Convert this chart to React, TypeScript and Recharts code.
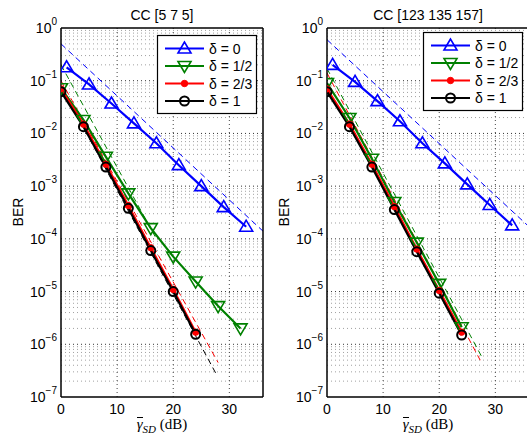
import React from 'react';
import { LineChart, Line, XAxis, YAxis, ReferenceLine } from 'recharts';

const FONT = '"Liberation Sans", Arial, sans-serif';
const SERIF = '"Liberation Serif", "Times New Roman", serif';

const BLUE = '#0000ff';
const GREEN = '#008000';
const RED = '#ff0000';
const BLACK = '#000000';

// snr points (dB)
const xBlue = [1, 5, 9, 13, 17, 21, 25, 29, 33];
const xLong = [0, 4, 8, 12, 16, 20, 24, 28, 32];
const xShort = [0, 4, 8, 12, 16, 20, 24];

// CC [5 7 5]
const berL0 = [0.18, 0.085, 0.037, 0.0155, 0.0065, 0.0025, 0.001, 0.0004, 0.00017];
const berL12 = [0.072, 0.018, 0.0036, 0.00073, 0.00016, 4.6e-5, 1.55e-5, 5.3e-6, 2.0e-6];
const berL23 = [0.07, 0.015, 0.0026, 0.00043, 6.8e-5, 1.1e-5, 1.7e-6];
const berL1 = [0.062, 0.0134, 0.0023, 0.00038, 6.0e-5, 1.0e-5, 1.55e-6];

// CC [123 135 157]
const berR0 = [0.2, 0.095, 0.041, 0.017, 0.0065, 0.0027, 0.00108, 0.00044, 0.00018];
const berR12 = [0.09, 0.0196, 0.0033, 0.0005, 8.5e-5, 1.4e-5, 2.1e-6];
const berR23 = [0.07, 0.015, 0.0026, 0.00041, 6.4e-5, 1.05e-5, 1.7e-6];
const berR1 = [0.062, 0.0134, 0.0023, 0.00036, 5.7e-5, 9.3e-6, 1.5e-6];

// asymptotes (end points)
const asymL0x = [0, 36];
const asymL0y = [0.5, 1.4e-4];
const asymL12x = [0, 17];
const asymL12y = [0.2, 1.0e-4];
const asymL23x = [0, 28];
const asymL23y = [0.1, 4.5e-7];
const asymL1x = [0, 27.6];
const asymL1y = [0.08, 2.8e-7];

const asymR0x = [0, 36];
const asymR0y = [0.6, 1.7e-4];
const asymR12x = [0, 27.5];
const asymR12y = [0.17, 6e-7];
const asymR23x = [0, 27.3];
const asymR23y = [0.14, 5e-7];

const legendLabels = ['δ = 0', 'δ = 1/2', 'δ = 2/3', 'δ = 1'];
const xTicks = [0, 10, 20, 30];
const yTicks = [1e-7, 1e-6, 1e-5, 1e-4, 1e-3, 1e-2, 1e-1, 1];
const decades = [1e-7, 1e-6, 1e-5, 1e-4, 1e-3, 1e-2, 1e-1];
const minorSteps = [2, 3, 4, 5, 6, 7, 8, 9];
const minorGrid = decades.flatMap((d) => minorSteps.map((m) => m * d));

type Pt = { x: number; y: number };
const zip = (xs: number[], ys: number[]): Pt[] => xs.map((x, i) => ({ x, y: ys[i] }));

type Marker = 'up' | 'down' | 'dot' | 'ring';

function MarkerShape({ cx, cy, kind, color }: { cx: number; cy: number; kind: Marker; color: string }) {
  if (kind === 'up')
    return (
      <polygon
        points={`${cx},${cy - 6.5} ${cx - 6.5},${cy + 4.5} ${cx + 6.5},${cy + 4.5}`}
        fill="none"
        stroke={color}
        strokeWidth={1.6}
      />
    );
  if (kind === 'down')
    return (
      <polygon
        points={`${cx},${cy + 6.5} ${cx - 6.5},${cy - 4.5} ${cx + 6.5},${cy - 4.5}`}
        fill="none"
        stroke={color}
        strokeWidth={1.6}
      />
    );
  if (kind === 'dot') return <circle cx={cx} cy={cy} r={3.2} fill={color} stroke={color} />;
  return <circle cx={cx} cy={cy} r={4.5} fill="none" stroke={color} strokeWidth={2} />;
}

const dotFor = (kind: Marker, color: string) => (p: any) => {
  if (p.cx == null || p.cy == null) return <g key={`e-${p.index}`} />;
  return (
    <g key={`m-${kind}-${p.index}`}>
      <MarkerShape cx={p.cx} cy={p.cy} kind={kind} color={color} />
    </g>
  );
};

const YTick = ({ x, y, payload }: any) => {
  const e = Math.round(Math.log10(payload.value));
  return (
    <text x={x} y={y + 5} textAnchor="end" fontSize={14} fill="#000" fontFamily={FONT}>
      10
      <tspan dy={-8} fontSize={10}>
        {e === 0 ? '0' : `\u2212${-e}`}
      </tspan>
    </text>
  );
};

const XTick = ({ x, y, payload }: any) => (
  <text x={x} y={y + 17} textAnchor="middle" fontSize={14} fill="#000" fontFamily={FONT}>
    {payload.value}
  </text>
);

type Curve = { data: Pt[]; color: string; marker: Marker };
type Asym = { data: Pt[]; color: string };

const colors = [BLUE, GREEN, RED, BLACK];
const markers: Marker[] = ['up', 'down', 'dot', 'ring'];

function LegendBox({ left, top }: { left: number; top: number }) {
  return (
    <svg width={100} height={79} style={{ position: 'absolute', left, top, overflow: 'visible' }}>
      <rect x={0.5} y={0.5} width={99} height={78} fill="#fff" stroke="#000" strokeWidth={1.2} />
      {legendLabels.map((lab, i) => {
        const cy = 13.5 + i * 17.5;
        return (
          <g key={lab}>
            <line x1={8} y1={cy} x2={47} y2={cy} stroke={colors[i]} strokeWidth={2} />
            <MarkerShape cx={27.5} cy={cy} kind={markers[i]} color={colors[i]} />
            <text x={52} y={cy + 5} fontSize={14} fontFamily={FONT} fill="#000">
              {lab}
            </text>
          </g>
        );
      })}
    </svg>
  );
}

function Panel({
  left,
  title,
  curves,
  asym,
  legendTop,
}: {
  left: number;
  title: string;
  curves: Curve[];
  asym: Asym[];
  legendTop: number;
}) {
  return (
    <div style={{ position: 'absolute', left, top: 0, width: 270, height: 439 }}>
      <LineChart width={270} height={439} margin={{ top: 28, right: 7, bottom: 0, left: 0 }}>
        <XAxis
          dataKey="x"
          type="number"
          domain={[0, 36]}
          allowDataOverflow
          ticks={xTicks}
          tick={<XTick />}
          tickLine={false}
          tickSize={0}
          tickMargin={0}
          height={42}
          axisLine={{ stroke: '#000', strokeWidth: 1.5 }}
        />
        <YAxis
          dataKey="y"
          type="number"
          scale="log"
          domain={[1e-7, 1]}
          allowDataOverflow
          ticks={yTicks}
          tick={<YTick />}
          tickLine={false}
          tickSize={0}
          tickMargin={4}
          width={61}
          axisLine={{ stroke: '#000', strokeWidth: 1.5 }}
        />
        {minorGrid.map((v) => (
          <ReferenceLine key={`mg-${v}`} y={v} stroke="#a0a0a0" strokeDasharray="1 3" strokeWidth={1} />
        ))}
        {decades.slice(1).map((v) => (
          <ReferenceLine key={`Mg-${v}`} y={v} stroke="#333" strokeDasharray="1 3" strokeWidth={1} />
        ))}
        {xTicks.slice(1).map((v) => (
          <ReferenceLine key={`vg-${v}`} x={v} stroke="#444" strokeDasharray="1 3" strokeWidth={1} />
        ))}
        {asym.map((a, i) => (
          <Line
            key={`as-${i}`}
            data={a.data}
            dataKey="y"
            stroke={a.color}
            strokeWidth={1}
            strokeDasharray="6 4"
            dot={false}
            activeDot={false}
            isAnimationActive={false}
          />
        ))}
        {curves.map((c, i) => (
          <Line
            key={`c-${i}`}
            data={c.data}
            dataKey="y"
            stroke={c.color}
            strokeWidth={2.2}
            dot={dotFor(c.marker, c.color)}
            activeDot={false}
            isAnimationActive={false}
          />
        ))}
        <ReferenceLine y={1} stroke="#000" strokeWidth={1.5} />
        <ReferenceLine x={36} stroke="#000" strokeWidth={1.5} />
      </LineChart>
      <div
        style={{
          position: 'absolute',
          left: 61,
          top: 5,
          width: 202,
          textAlign: 'center',
          font: `14px ${FONT}`,
          lineHeight: '20px',
          whiteSpace: 'nowrap',
        }}
      >
        {title}
      </div>
      <div
        style={{
          position: 'absolute',
          left: 18 - 25,
          top: 212 - 9,
          width: 50,
          height: 18,
          textAlign: 'center',
          font: `14px ${FONT}`,
          lineHeight: '18px',
          transform: 'rotate(-90deg)',
        }}
      >
        BER
      </div>
      <div
        style={{
          position: 'absolute',
          left: 61,
          top: 415,
          width: 202,
          textAlign: 'center',
          font: `15px ${SERIF}`,
          lineHeight: '18px',
          whiteSpace: 'nowrap',
        }}
      >
        <span
          style={{
            fontStyle: 'italic',
            display: 'inline-block',
            borderTop: '1px solid #000',
            lineHeight: '10px',
            paddingTop: 1,
          }}
        >
          γ
        </span>
        <sub style={{ fontStyle: 'italic', fontSize: 11 }}>SD</sub> (dB)
      </div>
      <LegendBox left={157} top={legendTop} />
    </div>
  );
}

export default function App() {
  const leftCurves: Curve[] = [
    { data: zip(xBlue, berL0), color: BLUE, marker: 'up' },
    { data: zip(xLong, berL12), color: GREEN, marker: 'down' },
    { data: zip(xShort, berL23), color: RED, marker: 'dot' },
    { data: zip(xShort, berL1), color: BLACK, marker: 'ring' },
  ];
  const leftAsym: Asym[] = [
    { data: zip(asymL0x, asymL0y), color: BLUE },
    { data: zip(asymL12x, asymL12y), color: GREEN },
    { data: zip(asymL23x, asymL23y), color: RED },
    { data: zip(asymL1x, asymL1y), color: BLACK },
  ];
  const rightCurves: Curve[] = [
    { data: zip(xBlue, berR0), color: BLUE, marker: 'up' },
    { data: zip(xShort, berR12), color: GREEN, marker: 'down' },
    { data: zip(xShort, berR23), color: RED, marker: 'dot' },
    { data: zip(xShort, berR1), color: BLACK, marker: 'ring' },
  ];
  const rightAsym: Asym[] = [
    { data: zip(asymR0x, asymR0y), color: BLUE },
    { data: zip(asymR23x, asymR23y), color: RED },
    { data: zip(asymR12x, asymR12y), color: GREEN },
  ];
  return (
    <div
      style={{
        position: 'fixed',
        left: 0,
        top: 0,
        width: 527,
        height: 439,
        overflow: 'hidden',
        background: '#fff',
      }}
    >
      <Panel left={0} title="CC [5 7 5]" curves={leftCurves} asym={leftAsym} legendTop={35} />
      <Panel left={266} title="CC [123 135 157]" curves={rightCurves} asym={rightAsym} legendTop={32} />
    </div>
  );
}
